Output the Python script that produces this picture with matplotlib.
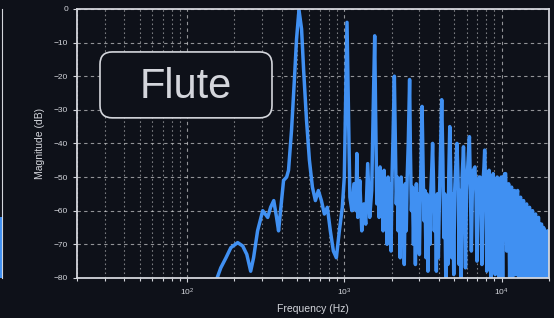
"""Flute magnitude spectrum panel (dark theme)."""

import matplotlib

matplotlib.use("Agg")
import matplotlib.pyplot as plt
import numpy as np
from matplotlib.patches import FancyBboxPatch

# --- data ------------------------------------------------------------------
freq_low = [150, 164, 177, 190, 210, 226, 240, 254, 265, 281, 303, 326, 340,
            356, 371, 382, 399, 411, 430, 442, 462, 483, 497, 515, 535, 551,
            575, 600, 627, 655, 684, 715, 747, 780, 815, 852, 890, 930, 971,
            1000, 1022, 1040, 1055, 1085, 1118, 1151, 1185, 1201, 1218, 1254,
            1291, 1329, 1368, 1408, 1450, 1493, 1526, 1560, 1580, 1610]
db_low = [-82, -77, -74, -71, -69.5, -70.5, -73, -78, -74, -66, -60, -62, -59,
          -57, -62, -66, -57, -51, -50, -48, -36, -20, -9, -0.3, -6, -18,
          -33, -45, -53, -57, -54, -57, -61, -59, -66, -72, -74, -66, -59,
          -50, -25, -4, -22, -56, -60, -52, -60, -43, -62, -51,
          -66, -58, -64, -46, -62, -54, -30, -8, -30, -58]

freq_high = [1640, 1664, 1688, 1713, 1738, 1764, 1790, 1816, 1843, 1870, 1897,
             1925, 1953, 1982, 2011, 2040, 2080, 2110, 2140, 2170, 2200, 2235,
             2265, 2300, 2335, 2370, 2405, 2440, 2475, 2510, 2550, 2600, 2630,
             2670, 2710, 2750, 2790, 2830, 2870, 2910, 2955, 3000, 3045, 3080,
             3120, 3160, 3210, 3255, 3305, 3350, 3400, 3450, 3500, 3550, 3600,
             3640, 3680, 3730, 3790, 3845, 3900, 3960, 4020, 4080, 4160, 4230,
             4290, 4350, 4415, 4480, 4550, 4615, 4680, 4750, 4820, 4890, 4960,
             5030, 5110, 5200, 5290, 5370, 5450, 5530, 5610, 5720, 5810, 5890,
             5980, 6070, 6240, 6330, 6420, 6520, 6610, 6760, 6870, 6970, 7070,
             7180, 7280, 7380, 7490, 7600, 7720, 7800, 7930, 8050, 8170, 8320,
             8460, 8580, 8710, 8840, 8970, 9100, 9240, 9370, 9510, 9650, 9800,
             9940, 10000, 10150, 10300, 10450, 10600, 10760, 10920, 11080,
             11240, 11410, 11570, 11740, 11920, 12090, 12270, 12450, 12630,
             12820, 13010, 13200, 13390, 13590, 13790, 13990, 14200, 14410,
             14620, 14830, 15050, 15270, 15500, 15720, 15950, 16190, 16430,
             16670, 16910, 17160, 17410, 17670, 17930, 18190, 18460, 18730,
             19000, 19280, 19560, 19850]
db_high = [-49, -62, -47, -61, -50, -66, -48, -63, -51, -70, -50,
           -62, -52, -72, -50, -38, -20, -40, -58, -50, -66, -52,
           -74, -50, -64, -53, -76, -52, -66, -50, -40, -21, -42,
           -60, -53, -70, -54, -76, -52, -68, -55, -73, -53, -44,
           -29, -45, -63, -54, -74, -55, -78, -56, -70, -54, -47,
           -40, -49, -66, -56, -78, -55, -74, -57, -44, -27, -45,
           -68, -55, -80, -56, -76, -49, -35, -50, -74, -55, -79,
           -54, -47, -40, -52, -76, -54, -80, -50, -41, -53, -77,
           -54, -48, -38, -53, -72, -52, -48, -47, -55, -75, -52,
           -50, -50, -58, -76, -52, -47, -42, -55, -78, -53, -48,
           -58, -80, -52, -49, -57, -79, -53, -50, -60, -80, -52,
           -50, -58, -80, -51, -49, -49, -72, -55, -52,
           -80, -54, -53, -80, -55, -54, -79, -56, -54,
           -80, -57, -56, -80, -58, -57, -80, -59, -58,
           -80, -60, -59, -80, -61, -60, -80, -62, -61,
           -80, -63, -62, -80, -64, -64, -80, -65, -66,
           -80, -67, -66, -80]

# right edge of the neighbouring (cropped) panel
prev_panel_top = -62

freq = np.array(freq_low + freq_high, dtype=float)
mag_db = np.array(db_low + db_high, dtype=float)

BG = "#0e1119"
FG = "#d4d6dc"
LINE = "#4090f2"

plt.rcParams["font.family"] = ["Liberation Sans", "DejaVu Sans"]

fig = plt.figure(figsize=(5.54, 3.18), dpi=100, facecolor=BG)
ax = fig.add_axes([0.139, 0.126, 0.852, 0.846], facecolor=BG)

ax.semilogx(freq, mag_db, color=LINE, linewidth=2.5, solid_joinstyle="round")
ax.set_xlim(20, 20000)
ax.set_ylim(-80, 0)
ax.set_yticks(np.arange(-80, 1, 10))

ax.grid(which="major", color="white", alpha=0.55, linestyle=(0, (3, 3)), linewidth=0.8)
ax.grid(which="minor", axis="x", color="white", alpha=0.45, linestyle=(0, (1.5, 2.5)), linewidth=0.8)

for sp in ax.spines.values():
    sp.set_color(FG)
    sp.set_linewidth(1.3)
ax.tick_params(which="both", colors=FG, labelsize=6, length=3, width=0.8)
ax.tick_params(which="minor", length=2)
ax.set_xlabel("Frequency (Hz)", color=FG, fontsize=7.5, labelpad=4)
ax.set_ylabel("Magnitude (dB)", color=FG, fontsize=7.5, labelpad=6)

# instrument label box
ax.add_patch(FancyBboxPatch((0.0487, 0.595), 0.3644, 0.245,
                            boxstyle="round,pad=0,rounding_size=0.026",
                            mutation_aspect=472 / 269, transform=ax.transAxes,
                            facecolor=BG, edgecolor=FG, linewidth=1.2, zorder=5))
ax.text(0.231, 0.669, "Flute", transform=ax.transAxes, ha="center", va="baseline",
        fontsize=30, color=FG, zorder=6)

# sliver of the previous panel at the far left
ax0 = fig.add_axes([-0.2, 0.126, 0.2035, 0.846], facecolor=BG)
ax0.bar([0.5], [prev_panel_top + 80], bottom=-80, width=1.0, color=LINE)
ax0.set_xlim(0, 1)
ax0.set_ylim(-80, 0)
for side in ("left", "top", "bottom"):
    ax0.spines[side].set_visible(False)
ax0.spines["right"].set_color(FG)
ax0.set_xticks([])
ax0.set_yticks([])

fig.savefig("out.png", dpi=100, facecolor=BG)
